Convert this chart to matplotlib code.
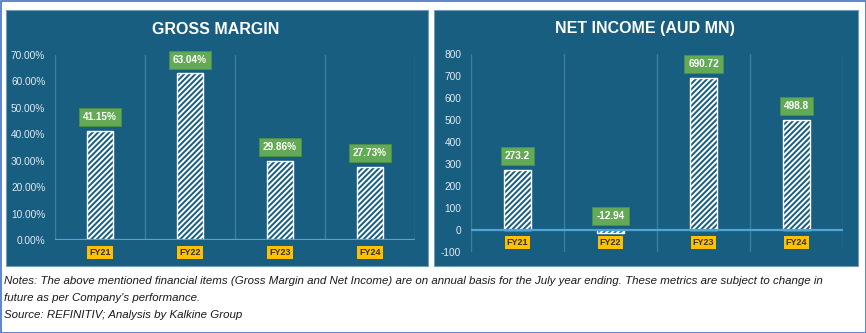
import matplotlib
matplotlib.use("Agg")
import matplotlib.pyplot as plt
from matplotlib.patches import Rectangle
from matplotlib.ticker import FuncFormatter, MultipleLocator

categories = ["FY21", "FY22", "FY23", "FY24"]
gross_margin = [41.15, 63.04, 29.86, 27.73]
net_income = [273.2, -12.94, 690.72, 498.8]
gm_labels = ["41.15%", "63.04%", "29.86%", "27.73%"]
ni_labels = ["273.2", "-12.94", "690.72", "498.8"]
notes = ["Notes: The above mentioned financial items (Gross Margin and Net Income) are on annual basis for the July year ending. These metrics are subject to change in",
         "future as per Company's performance.",
         "Source: REFINITIV; Analysis by Kalkine Group"]

W, H = 866, 333
PANEL = "#185E80"
SEP = "#3C7EA1"
plt.rcParams['hatch.color'] = 'white'
plt.rcParams['hatch.linewidth'] = 1.4
plt.rcParams['font.family'] = ['Liberation Sans', 'DejaVu Sans']

fig = plt.figure(figsize=(W/100, H/100), dpi=100)
fig.patch.set_facecolor("white")

def fx(px): return px / W
def fy(py): return 1 - py / H

fig.patches.append(Rectangle((fx(0.5), fy(332.5)), fx(865), 332/H, transform=fig.transFigure,
                             fill=False, edgecolor="#4472C4", linewidth=1.2, zorder=-2))
for x0, x1 in [(6, 428), (434, 858)]:
    fig.patches.append(Rectangle((fx(x0), fy(266)), fx(x1 - x0), (266 - 10)/H, transform=fig.transFigure,
                                 facecolor=PANEL, edgecolor="#6F9DB8", linewidth=0.8, zorder=-1))

def setup(ax, vals, labels, ylim, step, fmt):
    ax.set_facecolor("none")
    ax.set_zorder(2)
    x = range(len(vals))
    ax.bar(x, vals, width=0.28, facecolor=PANEL, edgecolor="white", hatch="//////", linewidth=1.0, zorder=3)
    ax.set_xlim(-0.5, len(vals) - 0.5)
    ax.set_ylim(*ylim)
    ax.yaxis.set_major_locator(MultipleLocator(step))
    ax.yaxis.set_major_formatter(FuncFormatter(fmt))
    for s in ax.spines.values():
        s.set_visible(False)
    ax.tick_params(axis='y', length=0, colors="#E3E9EE", labelsize=7.3, pad=7)
    ax.tick_params(axis='x', length=0, labelbottom=False)
    for b in [i - 0.5 for i in range(len(vals) + 1)]:
        ax.axvline(b, color=SEP, linewidth=1.0, zorder=1)
    ax.axhline(0, color="#4FA5D6", linewidth=1.6, zorder=4)
    for i, (v, lab) in enumerate(zip(vals, labels)):
        ax.annotate(lab, (i, max(v, 0)), xytext=(0, 10), textcoords="offset points",
                    ha="center", va="center", color="white", fontsize=7.2, fontweight="bold",
                    bbox=dict(boxstyle="square,pad=0.4", facecolor="#62AA55", edgecolor="#4E8F44", linewidth=0.6),
                    zorder=6, annotation_clip=False)
        ax.annotate(categories[i], (i, 0), xytext=(0, -9), textcoords="offset points",
                    ha="center", va="center", color="#333333", fontsize=6.5, fontweight="bold",
                    bbox=dict(boxstyle="square,pad=0.2", facecolor="#FFC000", edgecolor="none"),
                    zorder=6, annotation_clip=False)

ax1 = fig.add_axes([fx(55), fy(240), fx(415 - 55), (240 - 55)/H])
setup(ax1, gross_margin, gm_labels, (0, 70), 10, lambda v, p: f"{v:.2f}%")
ax2 = fig.add_axes([fx(471), fy(252), fx(843 - 471), (252 - 54)/H])
setup(ax2, net_income, ni_labels, (-100, 800), 100, lambda v, p: f"{int(v)}")

fig.text(fx(216), fy(29), "GROSS MARGIN", ha="center", va="center", color="white",
         fontsize=11.5, fontweight="bold")
fig.text(fx(645), fy(29), "NET INCOME (AUD MN)", ha="center", va="center", color="white",
         fontsize=11.5, fontweight="bold")

for t, y in zip(notes, [281, 298, 315]):
    fig.text(fx(4), fy(y), t, ha="left", va="center", color="#1a1a1a", fontsize=8.25,
             style="italic")

fig.savefig("out.png", dpi=100, facecolor="white")
